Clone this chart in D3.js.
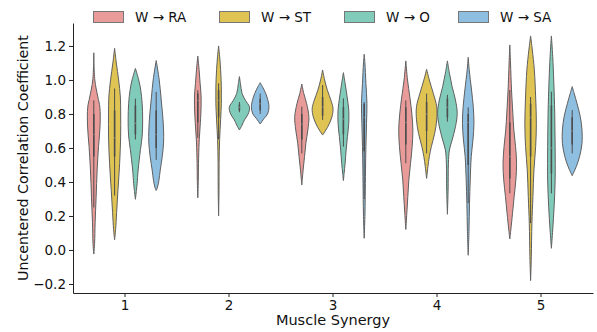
<!DOCTYPE html>
<html>
<head>
<meta charset="utf-8">
<script src="https://cdn.jsdelivr.net/npm/d3@7"></script>
<style>
  html, body { margin: 0; padding: 0; background: #fff; }
  svg { display: block; font-family: "DejaVu Sans", sans-serif; }
</style>
</head>
<body>
<svg id="chart" width="597" height="332"></svg>
<script>
// ---------------- DATA ----------------
const categories = ["1", "2", "3", "4", "5"];
const hues = ["W → RA", "W → ST", "W → O", "W → SA"];
const yTicks = [-0.2, 0.0, 0.2, 0.4, 0.6, 0.8, 1.0, 1.2];

// violin profiles per synergy: [value, relative density]
const raProfiles = [
  [[1.16,0],[1.0,1],[0.90,4],[0.84,6],[0.73,6.2],[0.61,4.7],[0.47,3.3],[0.31,2.3],[0.16,1.3],[0.04,0.8],[-0.024,0]],
  [[1.141,0],[1.06,1.3],[0.98,2.3],[0.90,3.3],[0.80,3],[0.70,2],[0.63,1.3],[0.51,0.7],[0.41,0.5],[0.307,0]],
  [[0.976,0],[0.92,2],[0.863,4.7],[0.784,7],[0.706,6],[0.627,4],[0.549,2.7],[0.47,1.3],[0.382,0]],
  [[1.112,0],[1.0,1.7],[0.90,4],[0.80,6],[0.706,7],[0.608,6.3],[0.51,4.7],[0.412,3],[0.314,2],[0.216,1],[0.121,0]],
  [[1.206,0],[1.1,0.7],[0.941,1.7],[0.804,3],[0.706,4],[0.608,5.7],[0.51,6.7],[0.412,6],[0.314,4.3],[0.216,2.7],[0.118,1],[0.065,0]]
];
const stProfiles = [
  [[1.186,0],[1.10,1.7],[1.0,4],[0.90,5.7],[0.80,6],[0.67,6],[0.51,5],[0.35,3.3],[0.22,2],[0.12,1],[0.06,0]],
  [[1.2,0],[1.14,1],[1.06,2],[0.96,2.7],[0.86,2.7],[0.765,2],[0.65,1],[0.51,0.5],[0.35,0.4],[0.2,0]],
  [[1.059,0],[1.0,2],[0.94,4.7],[0.88,8.3],[0.833,10.3],[0.784,9.3],[0.735,6],[0.706,3.3],[0.676,0]],
  [[1.063,0],[1.0,2.7],[0.92,6.7],[0.843,10],[0.765,10],[0.686,8],[0.608,4.7],[0.549,2.7],[0.49,1.3],[0.421,0]],
  [[1.259,0],[1.176,1.7],[1.059,3.7],[0.90,5],[0.745,5.7],[0.608,5],[0.47,3.3],[0.314,2.3],[0.157,1.3],[-0.04,0.7],[-0.18,0]]
];
const oProfiles = [
  [[1.068,0],[1.0,3.3],[0.94,5.3],[0.86,6.7],[0.765,7.2],[0.67,6.7],[0.59,5],[0.47,2.7],[0.39,1.7],[0.35,1],[0.298,0]],
  [[1.02,0],[0.98,1],[0.92,2.7],[0.88,6],[0.84,10],[0.80,8.7],[0.765,5],[0.735,2.7],[0.706,0]],
  [[1.043,0],[0.98,1.7],[0.90,3.7],[0.824,5.3],[0.745,5.3],[0.667,4],[0.588,2.7],[0.51,1.7],[0.45,0.7],[0.408,0]],
  [[1.112,0],[1.04,2],[0.96,4.7],[0.882,8],[0.804,9.7],[0.725,8],[0.647,4.7],[0.588,2],[0.51,1],[0.353,0.7],[0.21,0]],
  [[1.259,0],[1.137,1.3],[1.0,2.3],[0.804,3.3],[0.608,3.7],[0.412,3.7],[0.255,2.7],[0.118,1.3],[0.01,0]]
];
const saProfiles = [
  [[1.114,0],[1.0,3],[0.90,4.7],[0.80,6.3],[0.706,7.3],[0.63,7.3],[0.55,6],[0.47,4],[0.41,2.7],[0.37,1.3],[0.35,0]],
  [[0.984,0],[0.94,4],[0.90,6.7],[0.843,8.7],[0.80,7.3],[0.775,4],[0.741,0]],
  [[1.151,0],[1.1,0.7],[0.98,1.7],[0.863,2.7],[0.745,2.3],[0.608,1.7],[0.47,1.3],[0.314,1],[0.196,0.7],[0.069,0]],
  [[1.133,0],[1.06,1],[0.941,3.3],[0.843,5],[0.745,5.7],[0.647,4.7],[0.549,3],[0.412,2],[0.274,1.3],[0.118,0.8],[-0.031,0]],
  [[0.961,0],[0.92,2],[0.863,4.7],[0.784,8],[0.706,9.7],[0.627,9.7],[0.549,7.3],[0.49,4],[0.437,0]]
];

// inner box stats per synergy: [whisker low, q1, median, q3, whisker high]
const raStats = [[0.25,0.55,0.68,0.80,0.88],[0.66,0.75,0.88,0.92,0.94],[0.568,0.65,0.74,0.80,0.843],[0.51,0.62,0.75,0.84,0.88],[0.333,0.42,0.55,0.75,0.941]];
const stStats = [[0.32,0.55,0.66,0.82,0.95],[0.65,0.78,0.88,0.94,0.98],[0.765,0.79,0.84,0.90,0.97],[0.568,0.70,0.80,0.87,0.92],[0.157,0.55,0.78,0.86,0.90]];
const oStats  = [[0.65,0.68,0.745,0.85,0.89],[0.81,0.82,0.84,0.855,0.87],[0.608,0.68,0.77,0.84,0.892],[0.755,0.78,0.84,0.89,0.912],[0.333,0.45,0.60,0.85,0.931]];
const saStats = [[0.53,0.60,0.68,0.82,0.93],[0.80,0.82,0.86,0.89,0.92],[0.30,0.58,0.78,0.86,0.87],[0.274,0.50,0.75,0.80,0.839],[0.568,0.62,0.70,0.78,0.823]];

const colors = ["#e89b98", "#dfc353", "#80cbb9", "#8ebee0"];

// ---------------- LAYOUT ----------------
const profiles = [raProfiles, stProfiles, oProfiles, saProfiles];
const stats = [raStats, stStats, oStats, saStats];

const svg = d3.select("#chart");
const plot = { left: 73, right: 593, top: 23, bottom: 293 };

const x = d3.scaleBand().domain(categories).range([plot.left, plot.right]).paddingInner(0).paddingOuter(0);
const hueScale = d3.scaleBand().domain(hues).range([-x.bandwidth() * 0.4, x.bandwidth() * 0.4]);
const y = d3.scaleLinear().domain([-0.253, 1.335]).range([plot.bottom, plot.top]);

const maxDensity = d3.max(profiles.flat(2), d => d[1]);
const w = d3.scaleLinear().domain([0, maxDensity]).range([0, hueScale.bandwidth() / 2]);

// ---------------- VIOLINS ----------------
const g = svg.append("g");
hues.forEach((hue, hi) => {
  categories.forEach((cat, ci) => {
    const cx = x(cat) + x.bandwidth() / 2 + hueScale(hue) + hueScale.bandwidth() / 2;
    const prof = profiles[hi][ci];
    const area = d3.area()
      .y(d => y(d[0]))
      .x0(d => cx - w(d[1]))
      .x1(d => cx + w(d[1]))
      .curve(d3.curveCatmullRom.alpha(0.5));
    g.append("path")
      .attr("d", area(prof))
      .attr("fill", colors[hi])
      .attr("stroke", "#5f5f5f")
      .attr("stroke-width", 1);
    const s = stats[hi][ci];
    g.append("line")
      .attr("x1", cx).attr("x2", cx)
      .attr("y1", y(s[0])).attr("y2", y(s[4]))
      .attr("stroke", "#4d4d4d").attr("stroke-width", 1);
    g.append("line")
      .attr("x1", cx).attr("x2", cx)
      .attr("y1", y(s[1])).attr("y2", y(s[3]))
      .attr("stroke", "#4d4d4d").attr("stroke-width", 1.6);
    g.append("circle")
      .attr("cx", cx).attr("cy", y(s[2])).attr("r", 0.7)
      .attr("fill", "#ffffff").attr("opacity", 0.3);
  });
});

// ---------------- AXES ----------------
const fmt = d => (d < 0 ? "\u2212" : "") + d3.format(".1f")(Math.abs(d));
const yAxis = svg.append("g")
  .attr("transform", `translate(${plot.left},0)`)
  .call(d3.axisLeft(y).tickValues(yTicks).tickFormat(fmt).tickSize(4).tickPadding(3).tickSizeOuter(0));
yAxis.select(".domain").attr("stroke", "#222").attr("stroke-width", 1);
yAxis.selectAll(".tick line").attr("stroke", "#222");
yAxis.selectAll(".tick text").attr("font-size", 13.5).attr("fill", "#111").attr("font-family", "DejaVu Sans");

const xAxis = svg.append("g")
  .attr("transform", `translate(0,${plot.bottom})`)
  .call(d3.axisBottom(x).tickSize(4).tickPadding(3).tickSizeOuter(0));
xAxis.select(".domain").attr("stroke", "#222").attr("stroke-width", 1);
xAxis.selectAll(".tick line").attr("stroke", "#222");
xAxis.selectAll(".tick text").attr("font-size", 13.5).attr("fill", "#111").attr("font-family", "DejaVu Sans");

svg.append("text")
  .attr("x", (plot.left + plot.right) / 2)
  .attr("y", 325)
  .attr("text-anchor", "middle")
  .attr("font-size", 14.5)
  .attr("fill", "#111")
  .text("Muscle Synergy");

svg.append("text")
  .attr("transform", `translate(28,${(plot.top + plot.bottom) / 2}) rotate(-90)`)
  .attr("text-anchor", "middle")
  .attr("font-size", 14.2)
  .attr("fill", "#111")
  .text("Uncentered Correlation Coefficient");

// ---------------- LEGEND ----------------
const legendX = [93, 219, 344, 458];
const legend = svg.append("g");
hues.forEach((hue, i) => {
  legend.append("rect")
    .attr("x", legendX[i] + 0.5).attr("y", 11.5)
    .attr("width", 30).attr("height", 11)
    .attr("fill", colors[i]).attr("stroke", "#777").attr("stroke-width", 1);
  legend.append("text")
    .attr("x", legendX[i] + 42).attr("y", 22)
    .attr("font-size", 13.5).attr("fill", "#111")
    .text(hue);
});
</script>
</body>
</html>
